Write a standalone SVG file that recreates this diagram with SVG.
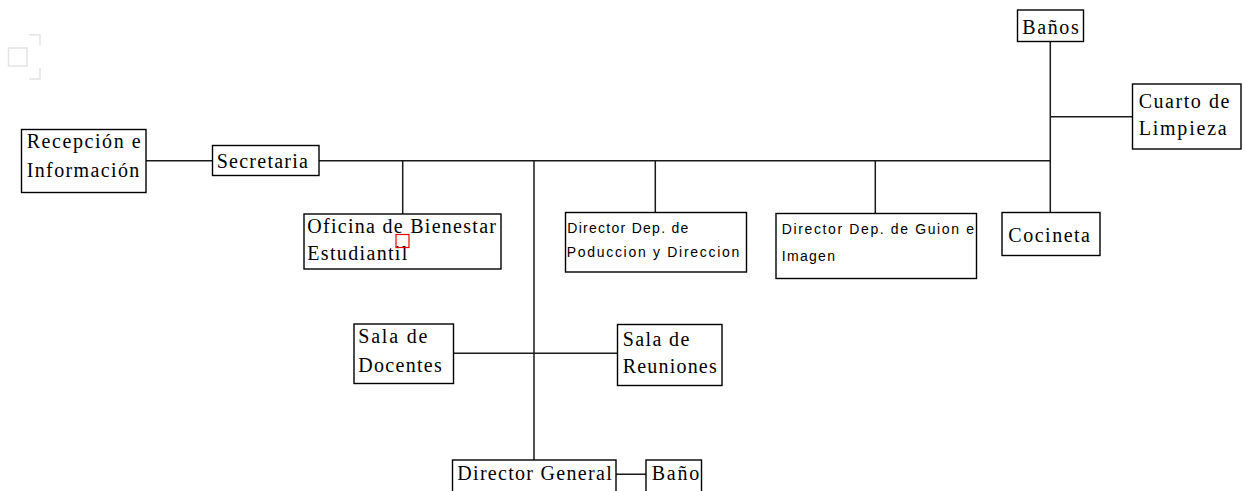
<svg xmlns="http://www.w3.org/2000/svg" width="1245" height="491" viewBox="0 0 1245 491">
<style>
.box{fill:#fff;stroke:#000;stroke-width:1.4}
.ln{fill:none;stroke:#1a1a1a;stroke-width:1.5}
.t{font-family:"Liberation Serif","Times New Roman",serif;font-size:20px;fill:#000}
.s{font-family:"Liberation Sans",Arial,sans-serif;font-size:14px;fill:#000}
.deco{fill:none;stroke:#e4e4e4;stroke-width:1.5}
</style>
<rect width="1245" height="491" fill="#fff"/>
<rect class="deco" x="8.5" y="48" width="18.5" height="18"/>
<path class="deco" d="M29 34.7H40V45M40 68V79H29"/>
<g id="connectors">
<path class="ln" d="M146 160.7H212.5M319 160.7H1050.3"/>
<path class="ln" d="M402.7 160.7V214M534 160.7V460M655.3 160.7V212.5M875.3 160.7V213.5"/>
<path class="ln" d="M1050.3 41.7V212.5M1050.3 116.7H1132.5"/>
<path class="ln" d="M453.5 353.3H617.5M616 474.3H646"/>
</g>
<g id="recepcion"><rect class="box" x="21.5" y="129.5" width="124.5" height="63"/>
<text class="t" x="26.7" y="148.3" textLength="114" lengthAdjust="spacing">Recepción e</text>
<text class="t" x="26.7" y="176.7" textLength="112.6" lengthAdjust="spacing">Información</text></g>
<g id="secretaria"><rect class="box" x="212.5" y="145.5" width="106.5" height="30"/>
<text class="t" x="216.7" y="168.3" textLength="91.3" lengthAdjust="spacing">Secretaria</text></g>
<g id="oficina"><rect class="box" x="304" y="214" width="197" height="55"/>
<text class="t" x="307.3" y="233.3" textLength="188.7" lengthAdjust="spacing">Oficina de Bienestar</text>
<text class="t" x="307.3" y="260" textLength="100" lengthAdjust="spacing">Estudiantil</text></g>
<g id="dirProd"><rect class="box" x="565.5" y="212.5" width="181" height="59.5"/>
<text class="s" x="567.3" y="233.3" textLength="121" lengthAdjust="spacing">Director Dep. de</text>
<text class="s" x="566.7" y="256.5" textLength="172.6" lengthAdjust="spacing">Poduccion y Direccion</text></g>
<g id="dirGuion"><rect class="box" x="776" y="213.5" width="200.5" height="65"/>
<text class="s" x="781.7" y="234" textLength="192.3" lengthAdjust="spacing">Director Dep. de Guion e</text>
<text class="s" x="781.7" y="260.7" textLength="53.3" lengthAdjust="spacing">Imagen</text></g>
<g id="banos"><rect class="box" x="1017.5" y="10" width="66" height="31.5"/>
<text class="t" x="1022.3" y="34.3" textLength="56.4" lengthAdjust="spacing">Baños</text></g>
<g id="cuarto"><rect class="box" x="1132.5" y="84" width="108.5" height="65"/>
<text class="t" x="1138.7" y="108.3" textLength="90.6" lengthAdjust="spacing">Cuarto de</text>
<text class="t" x="1138.7" y="135" textLength="88" lengthAdjust="spacing">Limpieza</text></g>
<g id="cocineta"><rect class="box" x="1002" y="212.5" width="98" height="43"/>
<text class="t" x="1008.3" y="241.7" textLength="81.7" lengthAdjust="spacing">Cocineta</text></g>
<g id="salaDocentes"><rect class="box" x="354" y="324" width="99.5" height="59.5"/>
<text class="t" x="358.3" y="343.3" textLength="69" lengthAdjust="spacing">Sala de</text>
<text class="t" x="358.3" y="371.7" textLength="83.4" lengthAdjust="spacing">Docentes</text></g>
<g id="salaReuniones"><rect class="box" x="617.5" y="324.5" width="104.5" height="61"/>
<text class="t" x="622.7" y="345.7" textLength="66.6" lengthAdjust="spacing">Sala de</text>
<text class="t" x="622.7" y="373.3" textLength="94" lengthAdjust="spacing">Reuniones</text></g>
<g id="dirGeneral"><rect class="box" x="452.5" y="460" width="163.5" height="40"/>
<text class="t" x="457.3" y="480" textLength="154.4" lengthAdjust="spacing">Director General</text></g>
<g id="bano"><rect class="box" x="646" y="460" width="55.5" height="40"/>
<text class="t" x="651.7" y="480" textLength="47.6" lengthAdjust="spacing">Baño</text></g>
<rect x="396" y="234.5" width="13" height="13" fill="none" stroke="#e00" stroke-width="1.2"/>
</svg>
